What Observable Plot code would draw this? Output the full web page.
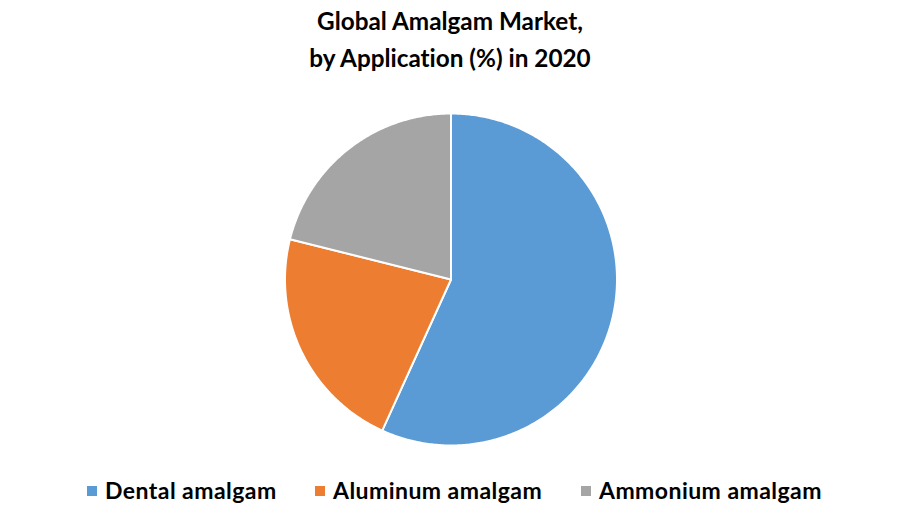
<!DOCTYPE html>
<html>
<head>
<meta charset="utf-8">
<script src="https://cdn.jsdelivr.net/npm/d3@7"></script>
<script src="https://cdn.jsdelivr.net/npm/@observablehq/plot@0.6"></script>
<style>
  html, body { margin: 0; padding: 0; background: #fff; width: 900px; height: 525px; overflow: hidden; }
  body { font-family: Lato, "Open Sans", sans-serif; font-variant-ligatures: none; }
  #title { height: 90px; text-align: center; font-weight: bold; font-size: 24.3px; line-height: 37px; padding-top: 2px; box-sizing: border-box; color: #000; }
  #chart { height: 370px; }
  #legend { position: relative; height: 65px; }
  .sw { position: absolute; top: 26px; width: 10px; height: 10px; }
  .txt { position: absolute; top: 16px; font-weight: bold; font-size: 23px; line-height: 28px; letter-spacing: 0.45px; color: #000; white-space: nowrap; }
</style>
</head>
<body>
<div id="title">Global Amalgam Market,<br>by Application (%) in 2020</div>
<div id="chart"></div>
<div id="legend"></div>
<script>
const categories = ["Dental amalgam", "Aluminum amalgam", "Ammonium amalgam"];
const shares = [56.8, 22.1, 21.1];
const colors = ["#5b9bd5", "#ed7d31", "#a5a5a5"];
const legendSwatchX = [87, 315, 581];
const legendTextX = [105, 333, 599];

const data = categories.map((c, i) => ({category: c, value: shares[i]}));
const arcs = d3.pie().sort(null).value(d => d.value)(data);

// Slice outlines in unit-circle data coordinates (angles from d3.pie, clockwise from 12 o'clock)
const pts = [];
arcs.forEach(a => {
  const cat = a.data.category;
  pts.push({category: cat, x: 0, y: 0});
  const n = Math.max(2, Math.ceil((a.endAngle - a.startAngle) / 0.01));
  for (let k = 0; k <= n; k++) {
    const t = a.startAngle + (a.endAngle - a.startAngle) * k / n;
    pts.push({category: cat, x: Math.sin(t), y: Math.cos(t)});
  }
  pts.push({category: cat, x: 0, y: 0});
});

const chart = Plot.plot({
  width: 900,
  height: 370,
  marginLeft: 284.5,
  marginRight: 283.5,
  marginTop: 23,
  marginBottom: 15,
  x: {domain: [-1, 1], axis: null},
  y: {domain: [-1, 1], axis: null},
  color: {domain: categories, range: colors},
  marks: [
    Plot.line(pts, {x: "x", y: "y", z: "category", fill: "category", stroke: "white", strokeWidth: 2, strokeLinejoin: "round", curve: "linear"})
  ]
});
document.getElementById("chart").appendChild(chart);

const legend = document.getElementById("legend");
categories.forEach((c, i) => {
  const sw = document.createElement("div");
  sw.className = "sw";
  sw.style.left = legendSwatchX[i] + "px";
  sw.style.background = colors[i];
  legend.appendChild(sw);
  const t = document.createElement("div");
  t.className = "txt";
  t.style.left = legendTextX[i] + "px";
  t.textContent = c;
  legend.appendChild(t);
});
</script>
</body>
</html>
